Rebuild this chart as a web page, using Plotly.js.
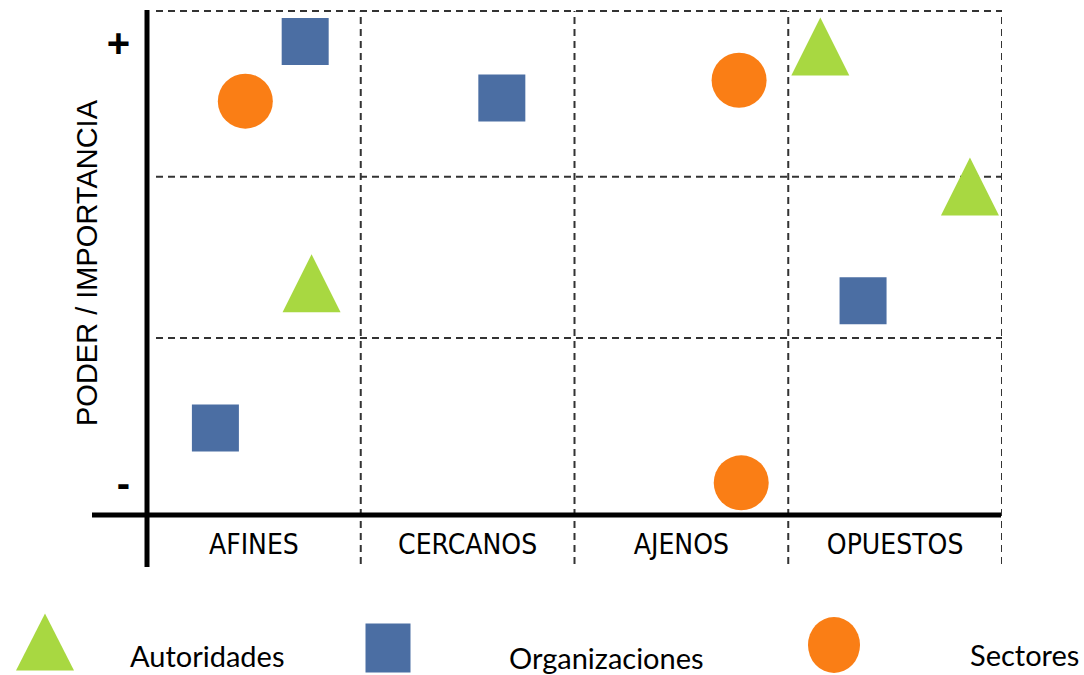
<!DOCTYPE html>
<html><head><meta charset="utf-8">
<script src="https://cdn.plot.ly/plotly-3.0.1.min.js"></script>
<style>html,body{margin:0;padding:0;background:#fff}</style>
</head><body><div id="chart" style="width:1084px;height:675px"></div>
<script>
// ---- data ----
const categories = ['AFINES', 'CERCANOS', 'AJENOS', 'OPUESTOS'];
const powerTickValues = [0.10, 2.83];
const powerTickLabels = ['-', '+'];
const seriesNames = ['Autoridades', 'Organizaciones', 'Sectores'];
const autoridadesX = [3.15, 3.85, 0.77];
const autoridadesY = [2.81, 1.94, 1.34];
const organizacionesX = [0.74, 1.66, 0.32, 3.35];
const organizacionesY = [2.84, 2.49, 0.44, 1.23];
const sectoresX = [0.46, 2.77, 2.78];
const sectoresY = [2.47, 2.60, 0.10];
const yTitle = 'PODER / IMPORTANCIA';

// ---- styles ----
const GREEN = '#A8D841', BLUE = '#4B6EA3', ORANGE = '#FA7E15';
const W = 1084, H = 675;
const M = {l: 147, r: 82, t: 11, b: 160};
const PW = W - M.l - M.r, PH = H - M.t - M.b;
const px2paperX = p => (p - M.l) / PW;
const px2paperY = p => (H - M.b - p) / PH;

const traces = [
  // upward triangle centred on the point (arrow-down rotated 180 and pushed by half its height)
  {type: 'scatter', mode: 'markers', name: seriesNames[0], x: autoridadesX, y: autoridadesY,
   marker: {symbol: 'arrow-down', angle: 180, size: 58, standoff: 29, color: GREEN, line: {width: 0}}, cliponaxis: false, showlegend: false},
  {type: 'scatter', mode: 'markers', name: seriesNames[1], x: organizacionesX, y: organizacionesY,
   marker: {symbol: 'square', size: 47, color: BLUE, line: {width: 0}}, cliponaxis: false, showlegend: false},
  {type: 'scatter', mode: 'markers', name: seriesNames[2], x: sectoresX, y: sectoresY,
   marker: {symbol: 'circle', size: 55, color: ORANGE, line: {width: 0}}, cliponaxis: false, showlegend: false}
];

const dash = {color: '#333', width: 2, dash: '7px,5px'};
const shapes = [];
[1, 2, 3, 4].forEach(v => shapes.push({type: 'line', layer: 'below', xref: 'x', yref: 'paper', x0: v, x1: v, y0: px2paperY(564), y1: 1, line: dash}));
[1, 2].forEach(v => shapes.push({type: 'line', layer: 'below', xref: 'paper', yref: 'y', x0: px2paperX(156), x1: 1, y0: v, y1: v, line: dash}));
shapes.push({type: 'line', layer: 'below', xref: 'paper', yref: 'paper', x0: px2paperX(156), x1: 1, y0: 1, y1: 1, line: dash});
shapes.push({type: 'line', layer: 'above', xref: 'paper', yref: 'paper', x0: 0, x1: 0, y0: px2paperY(567), y1: px2paperY(10), line: {color: '#000', width: 5}});
shapes.push({type: 'line', layer: 'above', xref: 'paper', yref: 'paper', x0: px2paperX(92), x1: px2paperX(1001), y0: 0, y1: 0, line: {color: '#000', width: 5}});

// legend keys (layout decoration)
const legendKeyX = [45, 388, 834], legendKeyY = [642, 648, 645];
const legendTextX = [128, 507, 968], legendTextY = [655, 658, 654];
const keyStyles = [
  {type: 'path', path: 'M-29,-28.5 L29,-28.5 L0,28.5 Z', fillcolor: GREEN},
  {type: 'rect', x0: -22.5, x1: 22.5, y0: -24.5, y1: 24.5, fillcolor: BLUE},
  {type: 'circle', x0: -26, x1: 26, y0: -28, y1: 28, fillcolor: ORANGE}
];
const annotations = [];
seriesNames.forEach((n, i) => {
  shapes.push(Object.assign({xref: 'paper', yref: 'paper', xsizemode: 'pixel', ysizemode: 'pixel',
    xanchor: px2paperX(legendKeyX[i]), yanchor: px2paperY(legendKeyY[i]), line: {width: 0}}, keyStyles[i]));
  annotations.push({xref: 'paper', yref: 'paper', x: px2paperX(legendTextX[i]), y: px2paperY(legendTextY[i]),
    xanchor: 'left', yanchor: 'middle', showarrow: false, text: n,
    font: {family: 'Lato, Liberation Sans, sans-serif', size: 29, color: '#000'}});
});

const layout = {
  width: W, height: H, margin: M,
  paper_bgcolor: '#fff', plot_bgcolor: '#fff', showlegend: false, hovermode: false,
  xaxis: {range: [0, 4], tickvals: categories.map((c, i) => i + 0.5), ticktext: categories,
    showgrid: false, zeroline: false, showline: false, ticks: '', ticklabelstandoff: 10,
    tickfont: {family: 'Liberation Sans Narrow, DejaVu Sans Condensed, sans-serif', size: 28, color: '#000'}},
  yaxis: {range: [-0.1, 3.03], tickvals: powerTickValues, ticktext: powerTickLabels,
    showgrid: false, zeroline: false, showline: false, ticks: '', ticklabelstandoff: 16,
    tickfont: {family: 'Liberation Sans, sans-serif', size: 40, color: '#000', weight: 'bold'},
    title: {text: yTitle, standoff: 0, font: {family: 'Liberation Sans, sans-serif', size: 29, color: '#000'}}},
  shapes: shapes, annotations: annotations
};
Plotly.newPlot('chart', traces, layout, {staticPlot: true, displayModeBar: false});
</script></body></html>
